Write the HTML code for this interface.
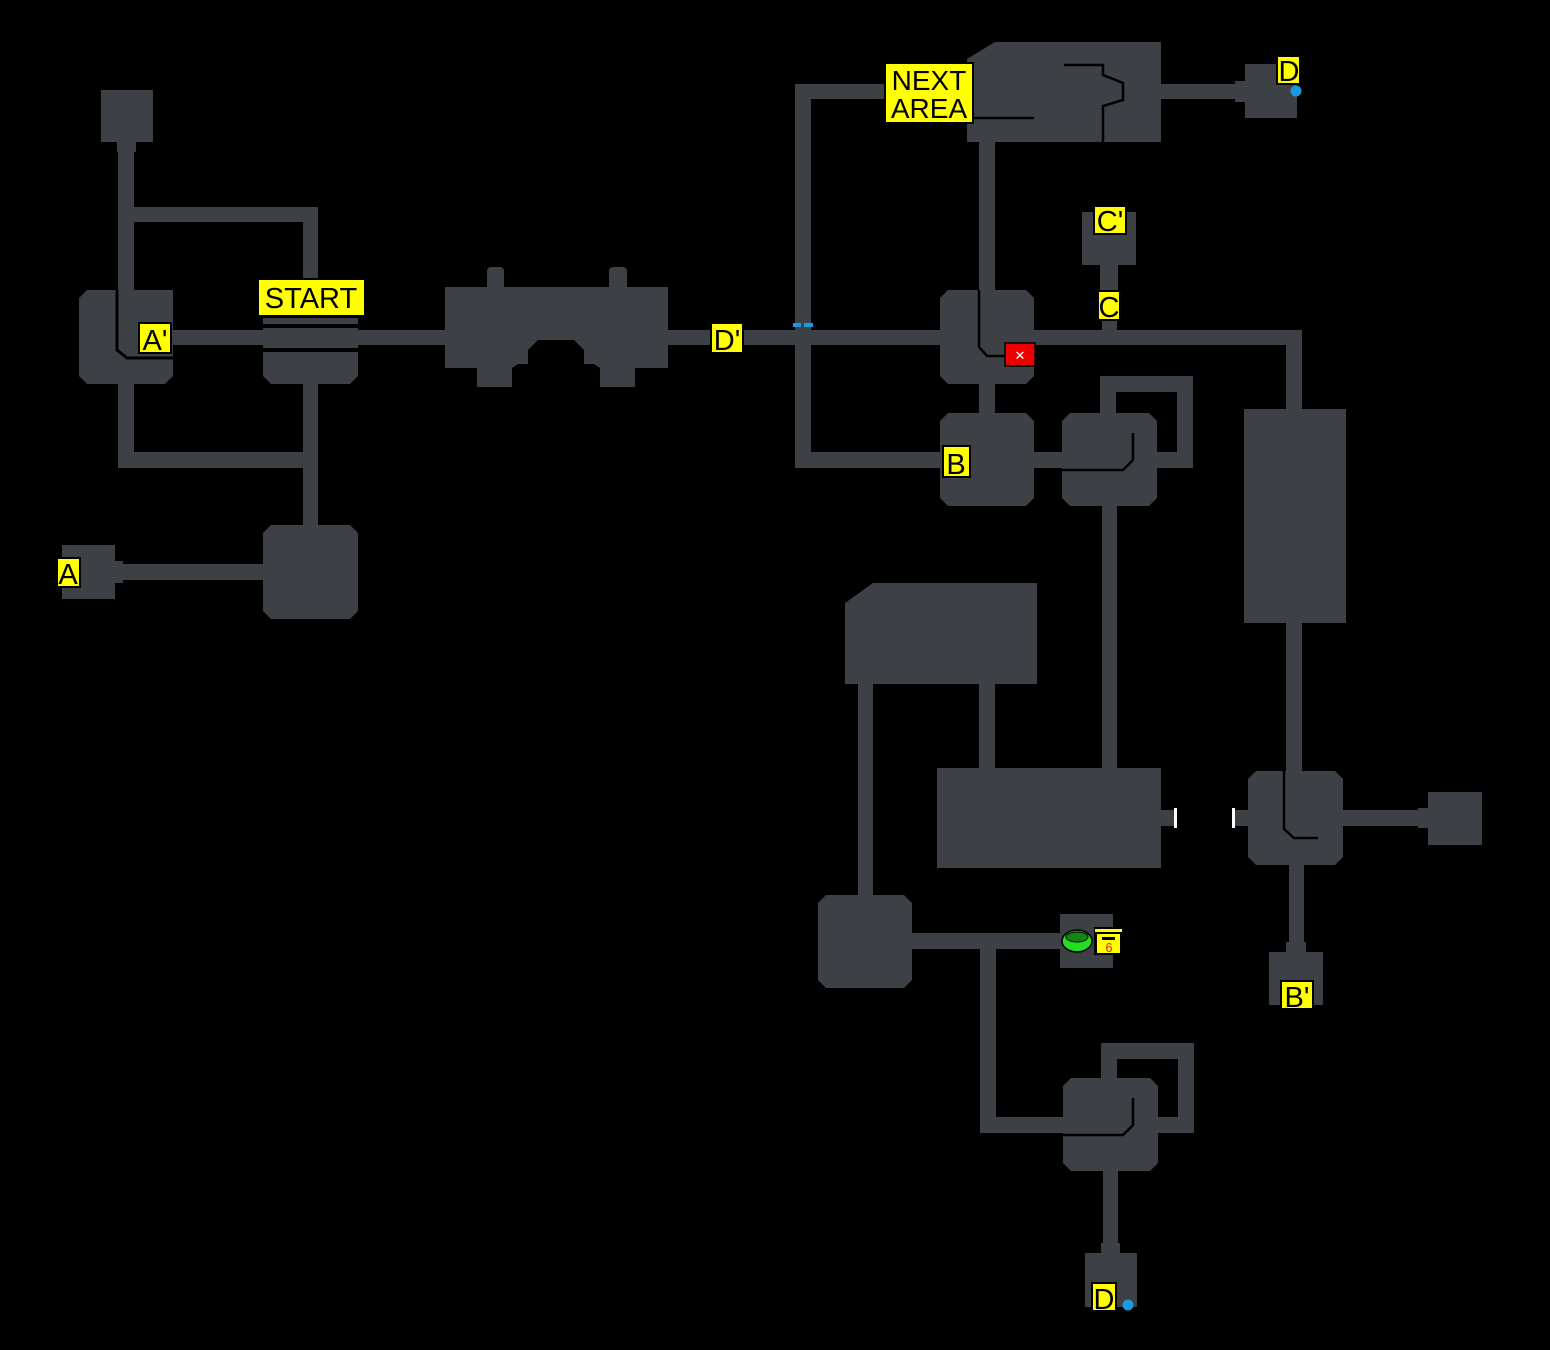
<!DOCTYPE html>
<html><head><meta charset="utf-8"><style>
html,body{margin:0;padding:0;background:#000;}
svg{display:block;}
.r{fill:#3d4045;}
.l{fill:#ffff00;stroke:#000;stroke-width:2;}
.t{font-family:"Liberation Sans",sans-serif;font-size:29px;fill:#000;}
.ln{stroke:#000;stroke-width:2.5;fill:none;}
</style></head><body>
<svg width="1550" height="1350" viewBox="0 0 1550 1350" xmlns="http://www.w3.org/2000/svg">
<rect width="1550" height="1350" fill="#000"/>
<g class="r">
<rect x="101" y="90" width="52" height="52"/>
<rect x="117" y="142" width="19" height="10"/>
<rect x="118" y="150" width="16" height="150"/>
<rect x="118" y="207" width="200" height="15"/>
<rect x="303" y="207" width="15" height="90"/>
<polygon points="87,290 173,290 173,376 165,384 87,384 79,376 79,298"/>
<rect x="173" y="330" width="272" height="15"/>
<polygon points="263,352 358,352 358,376 350,384 271,384 263,376"/>
<rect x="263" y="318" width="95" height="6"/>
<rect x="263" y="328" width="95" height="20"/>
<rect x="118" y="384" width="16" height="84"/>
<rect x="118" y="452" width="200" height="16"/>
<rect x="303" y="384" width="15" height="145"/>
<polygon points="271,525 350,525 358,533 358,611 350,619 271,619 263,611 263,533"/>
<rect x="110" y="564" width="155" height="16"/>
<rect x="62" y="545" width="53" height="54"/>
<rect x="113" y="561" width="10" height="22"/>
<rect x="487" y="267" width="17" height="25" rx="4"/>
<rect x="609" y="267" width="18" height="25" rx="4"/>
<polygon points="445,287 668,287 668,368 635,368 635,387 600,387 600,368 594,364 584,364 584,350 574,340 538,340 528,350 528,364 518,364 512,368 512,387 477,387 477,368 445,368"/>
<rect x="668" y="330" width="275" height="15"/>
<rect x="795" y="84" width="16" height="384"/>
<rect x="795" y="84" width="95" height="15"/>
<rect x="795" y="452" width="148" height="16"/>
<polygon points="995,42 1161,42 1161,142 967,142 967,59"/>
<rect x="1161" y="84" width="80" height="15"/>
<rect x="1235" y="81" width="12" height="21"/>
<rect x="1245" y="64" width="52" height="54"/>
<rect x="979" y="140" width="16" height="155"/>
<polygon points="948,290 1026,290 1034,298 1034,376 1026,384 948,384 940,376 940,298"/>
<rect x="1034" y="330" width="268" height="15"/>
<rect x="1286" y="330" width="16" height="82"/>
<rect x="1082" y="212" width="54" height="53"/>
<rect x="1100" y="263" width="18" height="30"/>
<rect x="1102" y="318" width="15" height="14"/>
<rect x="979" y="384" width="16" height="31"/>
<polygon points="948,413 1026,413 1034,421 1034,498 1026,506 948,506 940,498 940,421"/>
<rect x="1034" y="452" width="30" height="16"/>
<rect x="1100" y="376" width="16" height="40"/>
<rect x="1100" y="376" width="93" height="16"/>
<rect x="1177" y="376" width="16" height="92"/>
<rect x="1155" y="452" width="38" height="16"/>
<polygon points="1070,413 1149,413 1157,421 1157,498 1149,506 1070,506 1062,498 1062,421"/>
<rect x="1102" y="504" width="15" height="268"/>
<rect x="1244" y="409" width="102" height="214"/>
<rect x="1286" y="621" width="16" height="153"/>
<polygon points="873,583 1037,583 1037,684 845,684 845,603"/>
<rect x="979" y="682" width="16" height="90"/>
<rect x="858" y="682" width="15" height="215"/>
<rect x="937" y="768" width="224" height="100"/>
<rect x="1159" y="810" width="16" height="16"/>
<rect x="1235" y="810" width="16" height="16"/>
<polygon points="1256,771 1335,771 1343,779 1343,857 1335,865 1256,865 1248,857 1248,779"/>
<rect x="1341" y="810" width="90" height="16"/>
<rect x="1418" y="808" width="12" height="20"/>
<rect x="1428" y="792" width="54" height="53"/>
<rect x="1289" y="863" width="15" height="90"/>
<rect x="1286" y="942" width="20" height="12"/>
<rect x="1269" y="952" width="54" height="53"/>
<polygon points="826,895 904,895 912,903 912,980 904,988 826,988 818,980 818,903"/>
<rect x="910" y="933" width="152" height="16"/>
<rect x="1060" y="914" width="53" height="54"/>
<rect x="980" y="947" width="16" height="186"/>
<rect x="980" y="1117" width="85" height="16"/>
<rect x="1101" y="1043" width="16" height="38"/>
<rect x="1101" y="1043" width="93" height="16"/>
<rect x="1178" y="1043" width="16" height="90"/>
<rect x="1156" y="1117" width="38" height="16"/>
<polygon points="1071,1078 1150,1078 1158,1086 1158,1163 1150,1171 1071,1171 1063,1163 1063,1086"/>
<rect x="1103" y="1169" width="15" height="86"/>
<rect x="1101" y="1243" width="19" height="12"/>
<rect x="1085" y="1253" width="52" height="54"/>
</g>
<polyline class="ln" points="117,290 117,350 127,358 173,358" style="stroke-width:3"/>
<line x1="263" y1="326" x2="358" y2="326" class="ln" style="stroke-width:3"/>
<line x1="263" y1="350" x2="358" y2="350" class="ln" style="stroke-width:4"/>
<polyline class="ln" points="979,290 979,347 987,356 1005,356"/>
<polyline class="ln" points="1064,65 1103,65 1103,75 1123,83 1123,100 1103,106 1103,142"/>
<line x1="967" y1="118" x2="1034" y2="118" class="ln"/>
<polyline class="ln" points="1133,433 1133,460 1123,470 1062,470"/>
<polyline class="ln" points="1284,771 1284,829 1294,838 1318,838"/>
<polyline class="ln" points="1133,1098 1133,1125 1123,1135 1063,1135"/>
<rect x="793" y="323" width="8" height="4" fill="#1a9be0"/>
<rect x="804" y="323" width="9" height="4" fill="#1a9be0"/>
<rect x="1174" y="808" width="3" height="20" fill="#fff"/>
<rect x="1232" y="808" width="3" height="20" fill="#fff"/>
<circle cx="1296" cy="91" r="5.5" fill="#1a9be0"/>
<circle cx="1128" cy="1305" r="5.5" fill="#1a9be0"/>
<rect x="1005" y="343" width="30" height="23" fill="#ee0000" stroke="#000" stroke-width="1.5"/>
<text x="1020" y="360" font-family="Liberation Sans,sans-serif" font-size="13" fill="#fff" text-anchor="middle">✕</text>
<ellipse cx="1077" cy="941" rx="15" ry="11" fill="#22dd22" stroke="#000" stroke-width="1.5"/>
<ellipse cx="1077" cy="937" rx="11" ry="5" fill="#118811" stroke="#000" stroke-width="1"/>
<rect x="1094" y="927" width="28" height="28" fill="#000"/>
<rect x="1095" y="929" width="27" height="3" fill="#ffff00"/>
<rect x="1097" y="934" width="23" height="19" fill="#ffff00"/>
<rect x="1102" y="937" width="13" height="3" fill="#000"/>
<text x="1109" y="952" font-family="Liberation Sans,sans-serif" font-size="13" fill="#ee2222" text-anchor="middle">6</text>
<rect class="l" x="258" y="279" width="107" height="37"/>
<text class="t" x="311" y="308" text-anchor="middle">START</text>
<rect class="l" x="885" y="63" width="88" height="60"/>
<text class="t" x="929" y="90" text-anchor="middle" style="font-size:28px">NEXT</text>
<text class="t" x="929" y="118" text-anchor="middle" style="font-size:28px">AREA</text>
<rect class="l" x="139" y="323" width="32" height="30"/>
<text class="t" x="155" y="350" text-anchor="middle">A'</text>
<rect class="l" x="57" y="558" width="23" height="29"/>
<text class="t" x="68" y="584" text-anchor="middle">A</text>
<rect class="l" x="711" y="323" width="32" height="30"/>
<text class="t" x="727" y="350" text-anchor="middle">D'</text>
<rect class="l" x="1277" y="56" width="23" height="28"/>
<text class="t" x="1289" y="81" text-anchor="middle">D</text>
<rect class="l" x="1094" y="206" width="32" height="28"/>
<text class="t" x="1110" y="231" text-anchor="middle">C'</text>
<rect class="l" x="1098" y="291" width="22" height="29"/>
<text class="t" x="1109" y="317" text-anchor="middle">C</text>
<rect class="l" x="943" y="446" width="27" height="31"/>
<text class="t" x="956" y="474" text-anchor="middle">B</text>
<rect class="l" x="1281" y="981" width="32" height="28"/>
<text class="t" x="1297" y="1007" text-anchor="middle">B'</text>
<rect class="l" x="1092" y="1283" width="24" height="28"/>
<text class="t" x="1104" y="1309" text-anchor="middle">D</text>
</svg>
</body></html>
